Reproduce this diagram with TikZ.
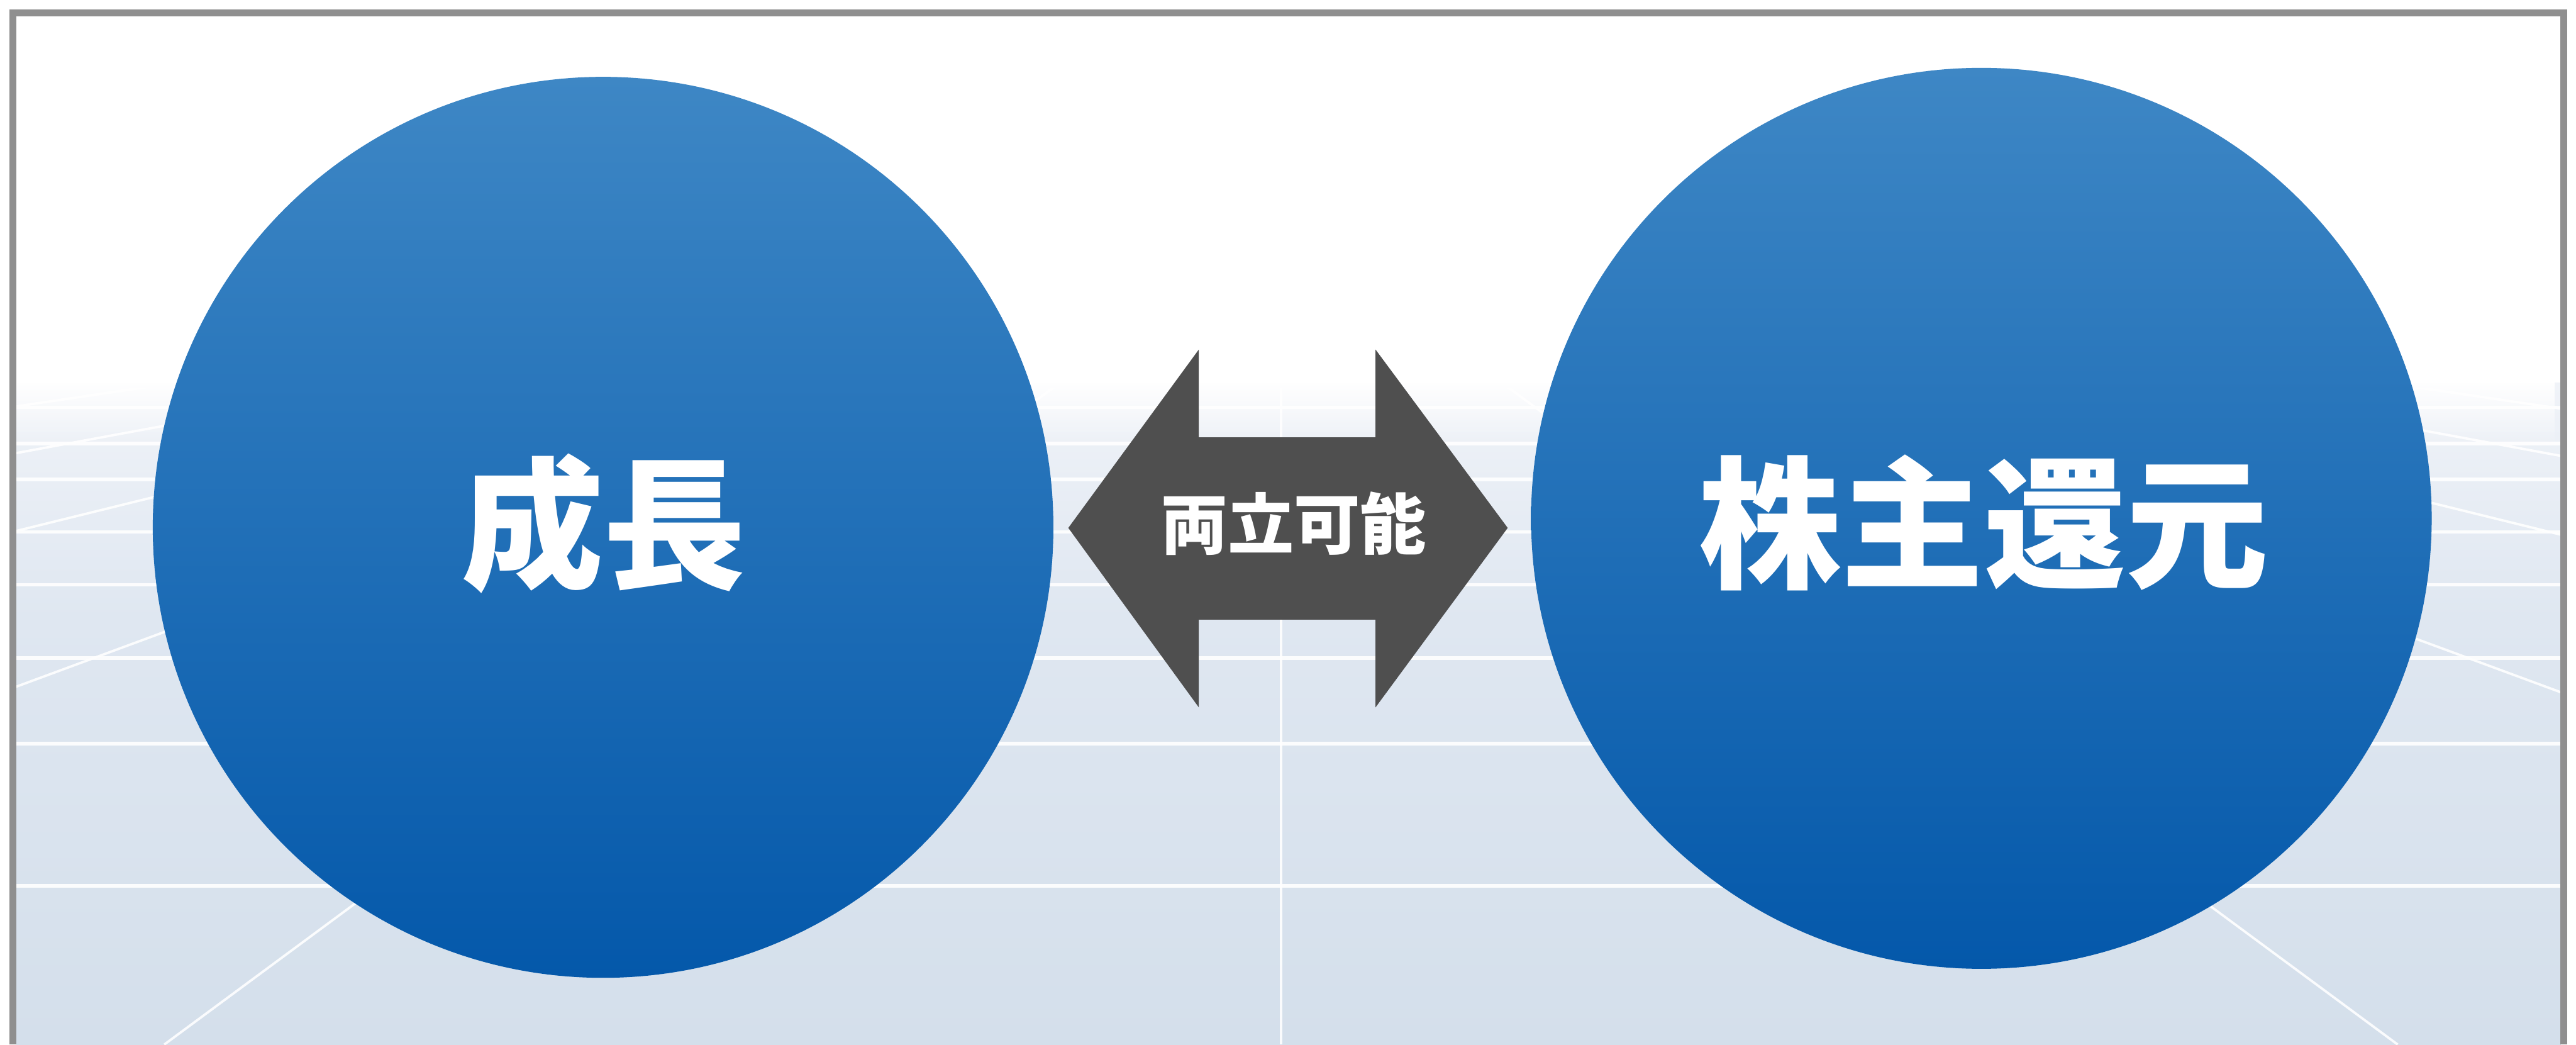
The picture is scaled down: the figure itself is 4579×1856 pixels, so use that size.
\documentclass[tikz,border=0pt]{standalone}
\usepackage{fontspec}
\newfontfamily\cjk{Noto Sans CJK JP}
\usetikzlibrary{fadings}
\definecolor{floorA}{RGB}{240,243,248}
\definecolor{floorB}{RGB}{223,231,241}
\definecolor{floorC}{RGB}{212,223,235}
\definecolor{framegray}{RGB}{143,143,143}
\definecolor{circTop}{RGB}{62,135,197}
\definecolor{circMid}{RGB}{31,116,188}
\definecolor{circBot}{RGB}{4,88,170}
\definecolor{arrowgray}{RGB}{79,79,79}
\tikzfading[name=topfade, top color=transparent!0, bottom color=transparent!100]
\begin{document}
\begin{tikzpicture}[x=0.01cm,y=-0.01cm,
  hline/.style={draw=white, line width=1.8pt, opacity=0.9},
  pline/.style={draw=white, line width=1.2pt, opacity=0.9},
  bigcirc/.style={circle, minimum size=16cm, inner sep=0pt,
    top color=circTop, middle color=circMid, bottom color=circBot},
  bigtext/.style={text=white, inner sep=0pt,
    font=\cjk\bfseries\fontsize{72pt}{72pt}\selectfont},
  midtext/.style={text=white, inner sep=0pt,
    font=\cjk\bfseries\fontsize{33.5pt}{33.5pt}\selectfont}]
\useasboundingbox (0,0) rectangle (4579,1856);
\fill[white] (0,0) rectangle (4579,1856);
% floor
\shade[top color=floorA, bottom color=floorB] (29,680) rectangle (4552,1100);
\shade[top color=floorB, bottom color=floorC] (29,1099) rectangle (4552,1856);
\begin{scope}
  \clip (29,690) rectangle (4552,1856);
  \foreach \yy in {724,788,852,945,1039,1169,1321,1574}
    \draw[hline] (29,\yy) -- (4552,\yy);
  \coordinate (vp) at (2277,390);
  \foreach \k in {-6,...,6}
    \draw[pline] (vp) -- ({2277+\k*1985},1856);
\end{scope}
\fill[white, path fading=topfade] (29,676) rectangle (4552,790);
% frame (open at bottom)
\draw[framegray, line width=3.4pt] (23,1856) -- (23,23) -- (4557.5,23) -- (4557.5,1856);
% circles
\node[bigcirc] (grow) at (1072,937) {};
\node[bigcirc] (ret) at (3522,921) {};
\node[bigtext] (growtxt) at (1073,930) {成長};
\node[bigtext] (rettxt) at (3526,929) {株主還元};
% double arrow
\fill[arrowgray] (1899,938) -- (2131,621) -- (2131,777) -- (2445,777) -- (2445,621)
  -- (2680,938) -- (2445,1257) -- (2445,1101) -- (2131,1101) -- (2131,1257) -- cycle;
\node[midtext] (both) at (2300,930) {両立可能};
\end{tikzpicture}
\end{document}
